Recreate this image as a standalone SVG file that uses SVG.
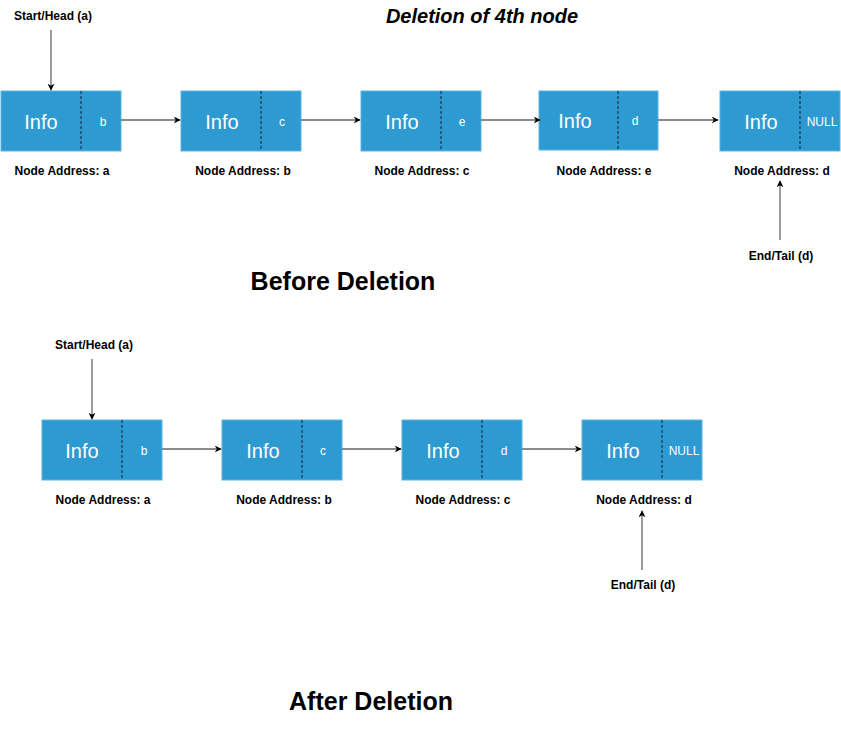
<svg xmlns="http://www.w3.org/2000/svg" width="841" height="731" viewBox="0 0 841 731">
<style>
.box{fill:#2E9AD2;stroke:#5CB3E0;stroke-width:1}
.div{stroke:#1B4A6B;stroke-width:1.5;stroke-dasharray:3 2}
.info{font-family:"Liberation Sans",Arial,sans-serif;font-size:20px;fill:#fff;text-anchor:middle}
.ptr{font-family:"Liberation Sans",Arial,sans-serif;font-size:12px;fill:#fff;text-anchor:middle}
.lbl{font-family:"Liberation Sans",Arial,sans-serif;font-size:12px;font-weight:bold;fill:#000;text-anchor:middle}
.conn{stroke:#666;stroke-width:1.3;fill:none;marker-end:url(#ah)}
.title{font-family:"Liberation Sans",Arial,sans-serif;font-weight:bold;fill:#000;text-anchor:middle}
</style>
<defs>
<marker id="ah" viewBox="0 0 10 10" refX="9" refY="5" markerWidth="7" markerHeight="7" markerUnits="userSpaceOnUse" orient="auto">
<path d="M0,0 L10,5 L0,10 L3,5 Z" fill="#000"/>
</marker>
</defs>
<rect width="841" height="731" fill="#fff"/>
<text class="title" x="482" y="23" font-size="20" font-style="italic">Deletion of 4th node</text>
<text class="title" x="343" y="290" font-size="25">Before Deletion</text>
<text class="title" x="371" y="710" font-size="25">After Deletion</text>

<g id="top-a"><rect class="box" x="1" y="91" width="120" height="60"/><line class="div" x1="81" y1="91" x2="81" y2="151"/><text class="info" x="41" y="129">Info</text><text class="ptr" x="103" y="126">b</text><text class="lbl" x="62" y="175">Node Address: a</text></g>
<g id="top-b"><rect class="box" x="181" y="91" width="120" height="60"/><line class="div" x1="261" y1="91" x2="261" y2="151"/><text class="info" x="222" y="129">Info</text><text class="ptr" x="282" y="126">c</text><text class="lbl" x="243" y="175">Node Address: b</text></g>
<g id="top-c"><rect class="box" x="361" y="91" width="120" height="60"/><line class="div" x1="441" y1="91" x2="441" y2="151"/><text class="info" x="402" y="129">Info</text><text class="ptr" x="462" y="126">e</text><text class="lbl" x="422" y="175">Node Address: c</text></g>
<g id="top-e"><rect class="box" x="539" y="91" width="119" height="59"/><line class="div" x1="618" y1="91" x2="618" y2="150"/><text class="info" x="575" y="128">Info</text><text class="ptr" x="635" y="125">d</text><text class="lbl" x="604" y="175">Node Address: e</text></g>
<g id="top-d"><rect class="box" x="720" y="91" width="120" height="60"/><line class="div" x1="800" y1="91" x2="800" y2="151"/><text class="info" x="761" y="129">Info</text><text class="ptr" x="822" y="126">NULL</text><text class="lbl" x="782" y="175">Node Address: d</text></g>
<g id="top-head"><text class="lbl" x="53" y="20">Start/Head (a)</text></g>
<g id="top-tail"><text class="lbl" x="781" y="260">End/Tail (d)</text></g>

<g id="bot-a"><rect class="box" x="42" y="420" width="120" height="60"/><line class="div" x1="122" y1="420" x2="122" y2="480"/><text class="info" x="82" y="458">Info</text><text class="ptr" x="144" y="455">b</text><text class="lbl" x="103" y="504">Node Address: a</text></g>
<g id="bot-b"><rect class="box" x="222" y="420" width="120" height="60"/><line class="div" x1="302" y1="420" x2="302" y2="480"/><text class="info" x="263" y="458">Info</text><text class="ptr" x="323" y="455">c</text><text class="lbl" x="284" y="504">Node Address: b</text></g>
<g id="bot-c"><rect class="box" x="402" y="420" width="120" height="60"/><line class="div" x1="482" y1="420" x2="482" y2="480"/><text class="info" x="443" y="458">Info</text><text class="ptr" x="504" y="455">d</text><text class="lbl" x="463" y="504">Node Address: c</text></g>
<g id="bot-d"><rect class="box" x="582" y="420" width="120" height="60"/><line class="div" x1="662" y1="420" x2="662" y2="480"/><text class="info" x="623" y="458">Info</text><text class="ptr" x="684" y="455">NULL</text><text class="lbl" x="644" y="504">Node Address: d</text></g>
<g id="bot-head"><text class="lbl" x="94" y="349">Start/Head (a)</text></g>
<g id="bot-tail"><text class="lbl" x="643" y="589">End/Tail (d)</text></g>

<g id="connectors">
<line class="conn" x1="51" y1="30" x2="51" y2="90"/>
<line class="conn" x1="121" y1="120" x2="180" y2="120"/>
<line class="conn" x1="301" y1="120" x2="360" y2="120"/>
<line class="conn" x1="481" y1="120" x2="540" y2="120"/>
<line class="conn" x1="658" y1="120" x2="718" y2="120"/>
<line class="conn" x1="780" y1="240" x2="780" y2="181"/>
<line class="conn" x1="92" y1="359" x2="92" y2="419"/>
<line class="conn" x1="162" y1="449" x2="221" y2="449"/>
<line class="conn" x1="342" y1="449" x2="401" y2="449"/>
<line class="conn" x1="522" y1="449" x2="581" y2="449"/>
<line class="conn" x1="642" y1="570" x2="642" y2="511"/>
</g>
</svg>
